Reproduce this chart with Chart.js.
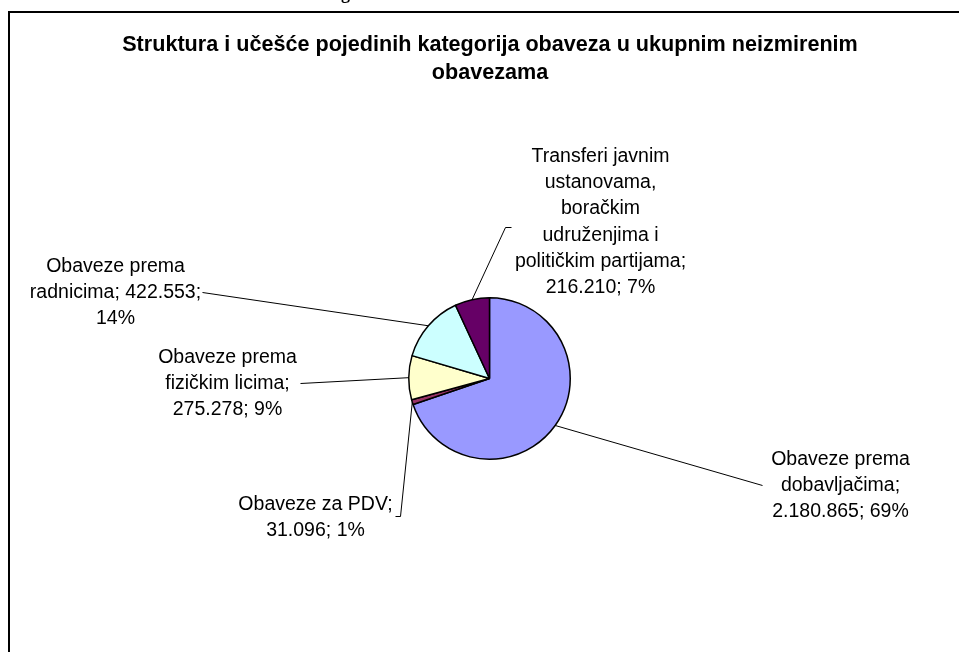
<!DOCTYPE html>
<html>
<head>
<meta charset="utf-8">
<script src="https://cdn.jsdelivr.net/npm/chart.js@4/dist/chart.umd.min.js"></script>
<style>
  html, body { margin: 0; padding: 0; background: #fff; }
  #wrap { width: 959px; height: 652px; position: relative; }
</style>
</head>
<body>
<div id="wrap"><canvas id="pieChart"></canvas></div>
<script>
// data
var categories = [
  'Obaveze prema dobavljačima',
  'Obaveze za PDV',
  'Obaveze prema fizičkim licima',
  'Obaveze prema radnicima',
  'Transferi javnim ustanovama, boračkim udruženjima i političkim partijama'
];
var values = [2180865, 31096, 275278, 422553, 216210];
var valueLabels = ['2.180.865', '31.096', '275.278', '422.553', '216.210'];
var percentLabels = ['69%', '1%', '9%', '14%', '7%'];

var titleLines = ['Struktura i učešće pojedinih kategorija obaveza u ukupnim neizmirenim', 'obavezama'];

// how each data label is broken into lines (text taken from the arrays above)
var labelLines = [
  ['Obaveze prema', 'dobavljačima;', valueLabels[0] + '; ' + percentLabels[0]],
  ['Obaveze za PDV;', valueLabels[1] + '; ' + percentLabels[1]],
  ['Obaveze prema', 'fizičkim licima;', valueLabels[2] + '; ' + percentLabels[2]],
  ['Obaveze prema', 'radnicima; ' + valueLabels[3] + ';', percentLabels[3]],
  ['Transferi javnim', 'ustanovama,', 'boračkim', 'udruženjima i', 'političkim partijama;', valueLabels[4] + '; ' + percentLabels[4]]
];

// label placement relative to pie centre: text centre x, first line y, leader points
var labelPlace = [
  { dx: 351, dy: 81, leader: [[273, 107]] },
  { dx: -174, dy: 126, leader: [[-89, 138], [-94, 138]] },
  { dx: -262, dy: -21, leader: [[-189, 5]] },
  { dx: -374, dy: -112, leader: [[-287, -86]] },
  { dx: 111, dy: -222, leader: [[16, -151], [22, -151]] }
];

var FONT = '"Liberation Sans", Arial, sans-serif';

var framePlugin = {
  id: 'frame',
  beforeDraw: function(chart) {
    var ctx = chart.ctx;
    ctx.save();
    ctx.fillStyle = '#fff';
    ctx.fillRect(0, 0, chart.width, chart.height);
    // frame (runs off the right and bottom edge)
    ctx.strokeStyle = '#000';
    ctx.lineWidth = 2;
    ctx.beginPath();
    ctx.moveTo(chart.width + 5, 12);
    ctx.lineTo(9, 12);
    ctx.lineTo(9, chart.height + 5);
    ctx.stroke();
    // bit of the caption above, cut off by the top edge
    ctx.fillStyle = '#000';
    ctx.font = 'bold 18px "Liberation Serif", serif';
    ctx.textAlign = 'left';
    ctx.textBaseline = 'alphabetic';
    ctx.fillText('g', 341, -1);
    // title
    ctx.font = 'bold 21.6px ' + FONT;
    ctx.textAlign = 'center';
    ctx.textBaseline = 'middle';
    for (var i = 0; i < titleLines.length; i++) {
      ctx.fillText(titleLines[i], 490, 45 + i * 28);
    }
    ctx.restore();
  }
};

var labelPlugin = {
  id: 'pieLabels',
  afterDatasetsDraw: function(chart) {
    var ctx = chart.ctx;
    var arcs = chart.getDatasetMeta(0).data;
    ctx.save();
    for (var i = 0; i < arcs.length; i++) {
      var a = arcs[i];
      var mid = (a.startAngle + a.endAngle) / 2;
      var sx = a.x + Math.cos(mid) * a.outerRadius;
      var sy = a.y + Math.sin(mid) * a.outerRadius;
      var p = labelPlace[i];
      ctx.strokeStyle = '#000';
      ctx.lineWidth = 1;
      ctx.beginPath();
      ctx.moveTo(sx, sy);
      for (var k = 0; k < p.leader.length; k++) {
        ctx.lineTo(a.x + p.leader[k][0], a.y + p.leader[k][1]);
      }
      ctx.stroke();
      ctx.fillStyle = '#000';
      ctx.font = '19.5px ' + FONT;
      ctx.textAlign = 'center';
      ctx.textBaseline = 'middle';
      var lines = labelLines[i];
      for (var j = 0; j < lines.length; j++) {
        ctx.fillText(lines[j], a.x + p.dx, a.y + p.dy + j * 26.3);
      }
    }
    ctx.restore();
  }
};

var pieCtx = document.getElementById('pieChart').getContext('2d');
var pieChart = new Chart(pieCtx, {
  type: 'pie',
  data: {
    labels: categories,
    datasets: [{
      data: values,
      backgroundColor: ['#9999FF', '#993366', '#FFFFCC', '#CCFFFF', '#660066'],
      borderColor: '#000',
      borderWidth: 1.5
    }]
  },
  options: {
    responsive: true,
    maintainAspectRatio: false,
    animation: false,
    layout: {
      padding: { left: 408, right: 388, top: 297, bottom: 192 }
    },
    plugins: {
      legend: { display: false },
      title: { display: false },
      tooltip: { enabled: false }
    }
  },
  plugins: [framePlugin, labelPlugin]
});
</script>
</body>
</html>
